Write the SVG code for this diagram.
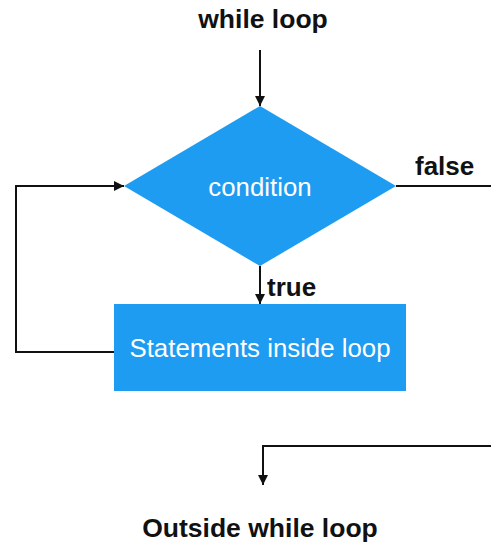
<svg xmlns="http://www.w3.org/2000/svg" width="491" height="543" viewBox="0 0 491 543">
<style>
.title{font-family:"Liberation Sans",Arial,sans-serif;font-weight:bold;font-size:26.5px;fill:#111;text-anchor:middle}
.lbl{font-family:"Liberation Sans",Arial,sans-serif;font-weight:bold;font-size:26px;fill:#111}
.inner{font-family:"Liberation Sans",Arial,sans-serif;font-size:25.8px;fill:#fff;text-anchor:middle}
.shape{fill:#1e9cf1}
.edge{fill:none;stroke:#111;stroke-width:2}
</style>
<defs>
<marker id="arr" viewBox="0 0 10 10" refX="10" refY="5" markerWidth="5" markerHeight="5" orient="auto" markerUnits="strokeWidth">
<path d="M0,0 L10,5 L0,10 z" fill="#111"/>
</marker>
</defs>
<g id="start"><text class="title" x="263" y="28">while loop</text></g>
<g id="condition">
<polygon class="shape" points="260,106 396,186 260,266 124,186"/>
<text class="inner" x="260" y="196">condition</text>
</g>
<g id="body">
<rect class="shape" x="114" y="304" width="292" height="87"/>
<text class="inner" x="260" y="357">Statements inside loop</text>
</g>
<g id="end"><text class="title" x="260" y="537">Outside while loop</text></g>
<g id="connectors">
<line class="edge" x1="260" y1="50" x2="260" y2="106" marker-end="url(#arr)"/>
<line class="edge" x1="260" y1="266" x2="260" y2="304" marker-end="url(#arr)"/>
<polyline class="edge" points="114,352 16,352 16,186 124,186" marker-end="url(#arr)"/>
<line class="edge" x1="396" y1="186" x2="491" y2="186"/>
<polyline class="edge" points="491,446 263,446 263,485" marker-end="url(#arr)"/>
<text class="lbl" x="415" y="175">false</text>
<text class="lbl" x="267" y="296">true</text>
</g>
</svg>
